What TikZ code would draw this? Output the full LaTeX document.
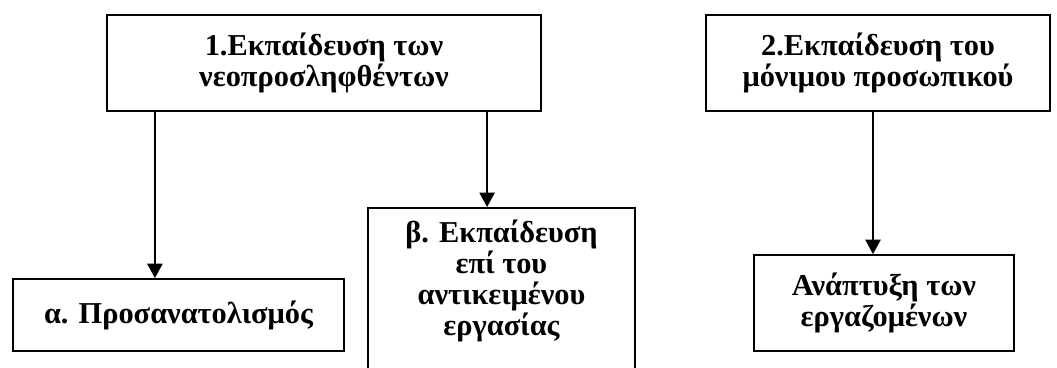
\documentclass[tikz,border=0pt]{standalone}
\usepackage{fontspec}
\setmainfont{Liberation Serif}
\usetikzlibrary{arrows.meta}

\begin{document}
\begin{tikzpicture}[
  box/.style={draw, line width=1.3pt, align=center, inner sep=0pt,
    font=\fontsize{21.6}{22}\selectfont\bfseries},
  arr/.style={line width=1.3pt, -{Triangle[length=0.36cm,width=0.38cm]}}
]
\useasboundingbox (0,0) rectangle (26.425,9.175);
\clip (0,0) rectangle (26.425,9.175);

% Level 1: the two kinds of training
\node[box, minimum width=10.85cm, minimum height=2.4cm] (neo) at (8.1,7.6) {1.Εκπαίδευση των\\νεοπροσληφθέντων};
\node[box, minimum width=8.6cm, minimum height=2.4cm] (monimo) at (21.95,7.6) {2.Εκπαίδευση του\\μόνιμου προσωπικού};

% Level 2
\node[box, minimum width=8.275cm, minimum height=1.8cm] (prosan) at (4.4625,1.3) {α. Προσανατολισμός};
\node[box, minimum width=6.675cm, inner ysep=0.3cm, text depth=1.2cm, anchor=north] (ergasia) at (12.5375,4.0) {β. Εκπαίδευση\\επί του\\αντικειμένου\\εργασίας};
\node[box, minimum width=6.5cm, minimum height=2.4cm] (anaptyxi) at (22.1,1.6) {Ανάπτυξη των\\εργαζομένων};

% Arrows
\draw[arr] ([xshift=-0.59cm]prosan.north |- neo.south) -- ([xshift=-0.59cm]prosan.north);
\draw[arr] ([xshift=-0.36cm]ergasia.north |- neo.south) -- ([xshift=-0.36cm]ergasia.north);
\draw[arr] ([xshift=-0.275cm]anaptyxi.north |- monimo.south) -- ([xshift=-0.275cm]anaptyxi.north);
\end{tikzpicture}
\end{document}
